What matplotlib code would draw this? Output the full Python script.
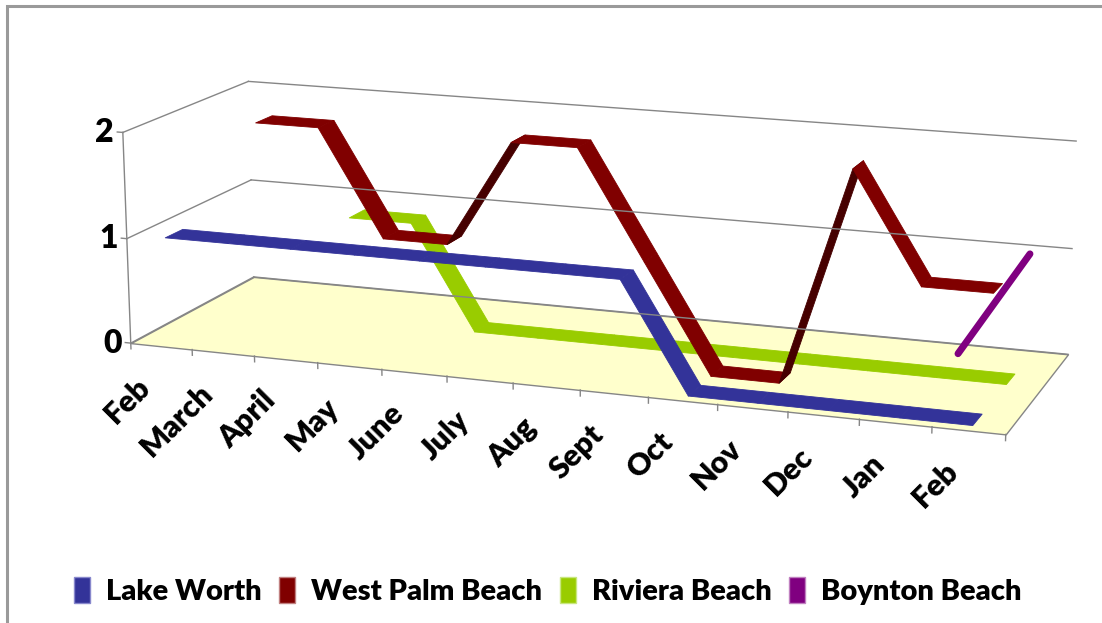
import numpy as np
import matplotlib.pyplot as plt
from matplotlib.patches import Patch, Rectangle
from mpl_toolkits.mplot3d.art3d import Poly3DCollection
from mpl_toolkits.mplot3d import proj3d

nan = np.nan

months = ['Feb', 'March', 'April', 'May', 'June', 'July', 'Aug', 'Sept',
          'Oct', 'Nov', 'Dec', 'Jan', 'Feb']
lake_worth = [1, 1, 1, 1, 1, 1, 1, 1, 0, 0, 0, 0, 0]
west_palm_beach = [nan, 2, 2, 1, 1, 2, 2, 1, 0, 0, 2, 1, 1]
riviera_beach = [nan, nan, 1, 1, 0, 0, 0, 0, 0, 0, 0, 0, 0]
boynton_beach = [nan] * 11 + [0, 1]
value_ticks = [0, 1, 2]

FONT = 'Lato'
WEIGHT = 'heavy'
GRID = '#868686'
FLOOR = '#FFFFCC'

plt.rcParams['font.family'] = [FONT, 'DejaVu Sans']

n = len(months)
depth = 4.0
ribbon = 0.27


def darker(color, f=0.55):
    c = np.array(plt.matplotlib.colors.to_rgb(color))
    return tuple(c * f)


def ribbon_polys(values, slot, color):
    y0 = slot + 0.5
    polys, colors = [], []
    for i in range(n - 1):
        a, b = values[i], values[i + 1]
        if np.isnan(a) or np.isnan(b):
            continue
        xa, xb = i + 0.5, i + 1.5
        polys.append([(xa, y0 - ribbon, a), (xb, y0 - ribbon, b),
                      (xb, y0 + ribbon, b), (xa, y0 + ribbon, a)])
        colors.append(darker(color) if b > a else color)
    pc = Poly3DCollection(polys, facecolors=colors, edgecolors=colors, linewidths=0.6)
    pc.set_clip_on(False)
    return pc


fig = plt.figure(figsize=(11.02, 6.23), dpi=100)
fig.patches.append(Rectangle((7 / 1102, -0.1), 1.2, 1.1 - 6 / 623, transform=fig.transFigure,
                             fill=False, edgecolor='#9a9a9a', linewidth=2.2))

# square 3d axes centred where the chart box sits
side = 548
cx, cy = 589, 251
ax = fig.add_axes([(cx - side / 2) / 1102, (623 - cy - side / 2) / 623,
                   side / 1102, side / 623], projection='3d')
ax.computed_zorder = False
ax.set_proj_type('persp', focal_length=1.05)
ax.view_init(elev=14, azim=-70.1)
ax.set_xlim(0, n)
ax.set_ylim(0, depth)
ax.set_zlim(0, 2)
ax.set_box_aspect((934, 293, 226), zoom=1.72)
ax.set_axis_off()

M = ax.get_proj()


def to2d(x, y, z):
    px, py, _ = proj3d.proj_transform(x, y, z, M)
    return px, py


def line3(xs, ys, zs, **kw):
    ln, = ax.plot(xs, ys, zs, **kw)
    ln.set_clip_on(False)
    return ln


# floor
floor = Poly3DCollection([[(0, 0, 0), (n, 0, 0), (n, depth, 0), (0, depth, 0)]],
                         facecolors=FLOOR, edgecolors=GRID, linewidths=1.0)
floor.set_clip_on(False)
ax.add_collection3d(floor)

# walls gridlines, value axis
for v in value_ticks:
    line3([0, 0], [0, depth], [v, v], color=GRID, lw=1.0)
    line3([0, n], [depth, depth], [v, v], color=GRID, lw=1.0)
    line3([0, -0.09], [0, 0], [v, v], color=GRID, lw=1.0)
    ax.annotate(str(v), xy=to2d(0, 0, v), xycoords='data', xytext=(-6.5, 0),
                textcoords='offset points', ha='right', va='center',
                fontsize=23, fontweight=WEIGHT, annotation_clip=False)
line3([0, 0], [0, 0], [0, 2], color=GRID, lw=1.0)

# category ticks and labels
for k in range(n + 1):
    line3([k, k], [0, 0], [0, -0.055], color=GRID, lw=1.0)
for i, m in enumerate(months):
    ax.annotate(m, xy=to2d(i + 0.5, 0, 0), xycoords='data', xytext=(-18, -19),
                textcoords='offset points', rotation=45, rotation_mode='anchor',
                ha='right', va='top', fontsize=22, fontweight=WEIGHT,
                annotation_clip=False)

# series (drawn in the order Excel paints them)
ax.add_collection3d(ribbon_polys(riviera_beach, 2, '#99CC00'))
ax.add_collection3d(ribbon_polys(west_palm_beach, 1, '#800000'))
ax.add_collection3d(ribbon_polys(lake_worth, 0, '#333399'))
xs = np.arange(n) + 0.5
line3(xs, np.full(n, 3.5), boynton_beach, color='#800080', lw=5,
      solid_capstyle='round')

handles = [Patch(facecolor='#333399', edgecolor='#8888cc', label='Lake Worth'),
           Patch(facecolor='#800000', edgecolor='#c08080', label='West Palm Beach'),
           Patch(facecolor='#99CC00', edgecolor='#c8e680', label='Riviera Beach'),
           Patch(facecolor='#800080', edgecolor='#c080c0', label='Boynton Beach')]
fig.legend(handles=handles, loc='center', bbox_to_anchor=(0.497, 0.051), ncol=4,
           frameon=False, prop={'family': FONT, 'weight': WEIGHT, 'size': 21},
           handlelength=0.55, handleheight=1.0, handletextpad=0.55, columnspacing=0.6)

fig.savefig('out.png', dpi=100)
